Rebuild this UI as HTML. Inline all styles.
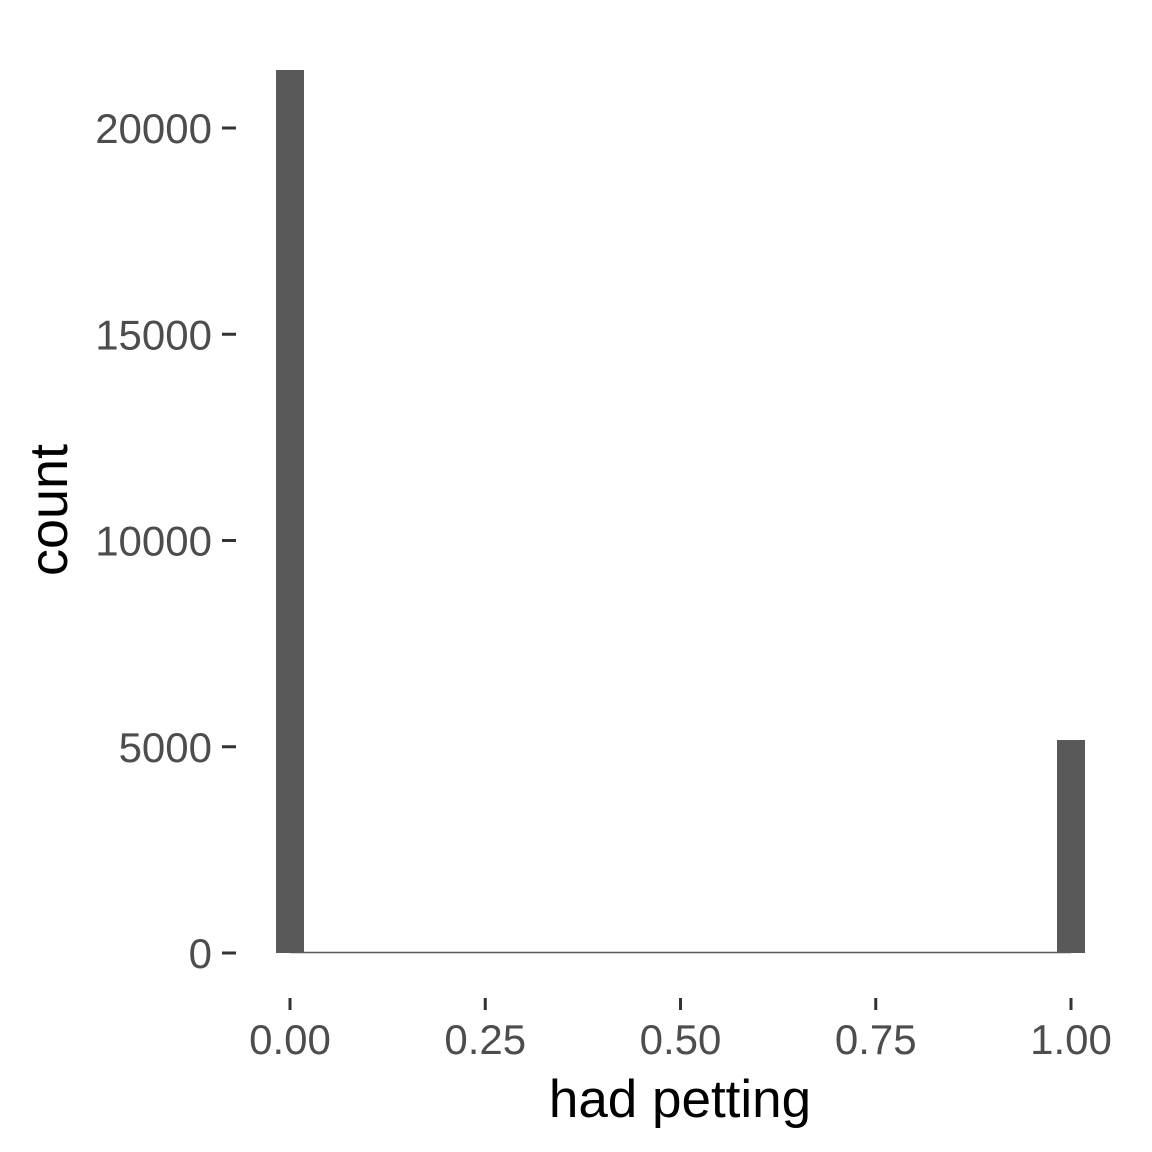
<!DOCTYPE html>
<html><head><meta charset="utf-8"><style>
body{margin:0;background:#fff}
svg{display:block}
text{font-family:"Liberation Sans",sans-serif}
</style></head><body>
<svg id="chart" width="1152" height="1152" viewBox="0 0 1152 1152" xmlns="http://www.w3.org/2000/svg">
<g id="bars"></g>
<g id="axes"></g>
<text x="680" y="1117" font-size="53" text-anchor="middle" fill="#000">had petting</text>
<text transform="translate(67,510) rotate(-90)" font-size="54" text-anchor="middle" fill="#000">count</text>
</svg>
<script>
const binCenters = [0, 1];
const binCounts = [21406, 5164];
const xTicks = [0, 0.25, 0.5, 0.75, 1];
const xTickLabels = ["0.00", "0.25", "0.50", "0.75", "1.00"];
const yTicks = [0, 5000, 10000, 15000, 20000];
const yTickLabels = ["0", "5000", "10000", "15000", "20000"];

const NS = "http://www.w3.org/2000/svg";
const xs = v => 290 + v * 781;
const ys = v => 953 - v * 0.04125;
const binW = 28 / 781;
function mk(tag, attrs, parent) {
  const e = document.createElementNS(NS, tag);
  for (const k in attrs) e.setAttribute(k, attrs[k]);
  parent.appendChild(e);
  return e;
}
const bars = document.getElementById('bars');
const axes = document.getElementById('axes');
const base = mk('line', {x1: xs(binCenters[0]), x2: xs(binCenters[binCenters.length-1]), y1: ys(0) - 0.5, y2: ys(0) - 0.5, stroke: '#595959', 'stroke-width': 1.5}, bars);


binCenters.forEach((c, i) => {
  const x0 = xs(c - binW / 2), x1 = xs(c + binW / 2);
  const r = mk('rect', {x: x0, y: ys(binCounts[i]), width: x1 - x0, height: ys(0) - ys(binCounts[i]), fill: '#595959'}, bars);
  
  
});
xTicks.forEach((t, i) => {
  const l = mk('line', {x1: xs(t), x2: xs(t), y1: 998, y2: 1010, stroke: '#333', 'stroke-width': 3}, axes);
  
  
  const tx = mk('text', {x: xs(t), y: 1054, 'font-size': 42, 'text-anchor': 'middle', fill: '#4d4d4d'}, axes);
  tx.textContent = xTickLabels[i];
  
  
});
yTicks.forEach((t, i) => {
  const l = mk('line', {x1: 222, x2: 236, y1: ys(t), y2: ys(t), stroke: '#333', 'stroke-width': 3}, axes);
  
  
  const tx = mk('text', {x: 212, y: ys(t) + 15, 'font-size': 42, 'text-anchor': 'end', fill: '#4d4d4d'}, axes);
  tx.textContent = yTickLabels[i];
  
  
});
</script>
</body></html>
